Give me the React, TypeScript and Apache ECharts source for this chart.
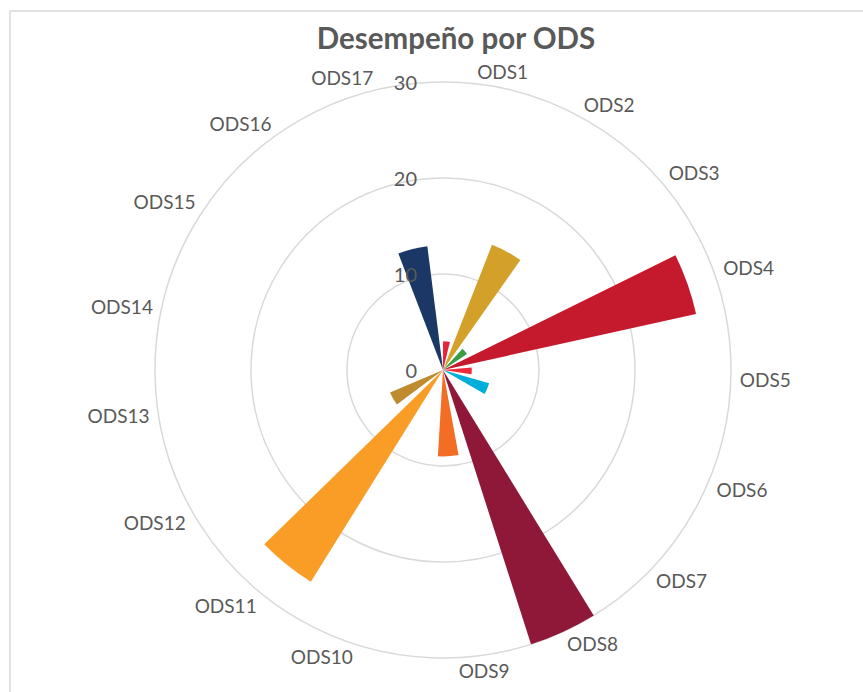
import React, { useEffect, useRef } from "react";
import * as echarts from "echarts";

const categories = [
  "ODS1", "ODS2", "ODS3", "ODS4", "ODS5", "ODS6", "ODS7", "ODS8", "ODS9",
  "ODS10", "ODS11", "ODS12", "ODS13", "ODS14", "ODS15", "ODS16", "ODS17",
];
const values = [3, 14, 3, 27, 3, 5, 0, 30, 9, 0, 26, 6, 0, 0, 0, 0, 13];
const colors = [
  "#E5243B", "#D3A029", "#3A9C43", "#C5192D", "#EF2B3A", "#00AED9", "#FDB713",
  "#8F1838", "#F36D25", "#E11484", "#F99D26", "#BF8B2E", "#48773E", "#007DBC",
  "#3EB049", "#02558B", "#1A3765",
];
const radiusMin = 0;
const radiusMax = 30;
const radiusStep = 10;
const title = "Desempeño por ODS";

// Excel aligns near-vertical labels to one side instead of centring them
const leftAligned = ["ODS1", "ODS9"];
const rightAligned = ["ODS17"];

export default function App() {
  const ref = useRef<HTMLDivElement>(null);
  useEffect(() => {
    if (!ref.current) return;
    const chart = echarts.init(ref.current, null, { renderer: "svg" });
    const textColor = "#595959";
    const font = "Lato, 'Open Sans', sans-serif";
    const lh = 8;
    chart.setOption({
      animation: false,
      backgroundColor: "#ffffff",
      title: {
        text: title,
        left: 451,
        top: 17,
        textAlign: "center",
        textStyle: { fontFamily: font, fontWeight: "bold", fontSize: 29.5, color: textColor },
      },
      graphic: [
        {
          type: "rect",
          shape: { x: 10, y: 11, width: 900, height: 720 },
          style: { fill: "none", stroke: "#D9D9D9", lineWidth: 1.5 },
          silent: true,
        },
      ],
      polar: [
        { center: [443, 370], radius: 288 },
        { center: [443, 370], radius: 288 },
      ],
      angleAxis: [
        {
          polarIndex: 0,
          type: "category",
          data: categories,
          startAngle: 93.5,
          clockwise: true,
          boundaryGap: true,
          axisLine: { show: false },
          axisTick: { show: false },
          splitLine: { show: false },
          axisLabel: {
            color: textColor,
            fontFamily: font,
            fontSize: 19,
            lineHeight: lh,
            margin: 9,
            formatter: (v: string) =>
              leftAligned.includes(v) ? `{l|${v}}` : rightAligned.includes(v) ? `{r|${v}}` : v,
            rich: {
              l: { color: textColor, fontFamily: font, fontSize: 19, lineHeight: lh, padding: [0, 0, 0, 46] },
              r: { color: textColor, fontFamily: font, fontSize: 19, lineHeight: lh, padding: [0, 57, 0, 0] },
            },
          },
        },
        {
          polarIndex: 1,
          type: "value",
          startAngle: 90,
          min: 0,
          max: 360,
          show: false,
        },
      ],
      radiusAxis: [
        {
          polarIndex: 0,
          type: "value",
          min: radiusMin,
          max: radiusMax,
          interval: radiusStep,
          axisLine: { show: false },
          axisTick: { show: false },
          axisLabel: { show: false },
          splitLine: { show: true, lineStyle: { color: "#D9D9D9", width: 1.5 } },
          z: 0,
        },
        {
          polarIndex: 1,
          type: "value",
          min: radiusMin,
          max: radiusMax,
          interval: radiusStep,
          axisLine: { show: false },
          axisTick: { show: false },
          splitLine: { show: false },
          axisLabel: {
            color: textColor,
            fontFamily: font,
            fontSize: 20,
            margin: 26,
          },
          z: 10,
        },
      ],
      series: [
        {
          type: "bar",
          coordinateSystem: "polar",
          polarIndex: 0,
          barWidth: "65%",
          z: 3,
          data: values.map((v, i) => ({ value: v, itemStyle: { color: colors[i] } })),
        },
      ],
    });
    return () => chart.dispose();
  }, []);
  return (
    <div
      ref={ref}
      style={{ position: "absolute", left: 0, top: 0, width: 863, height: 692 }}
    />
  );
}
